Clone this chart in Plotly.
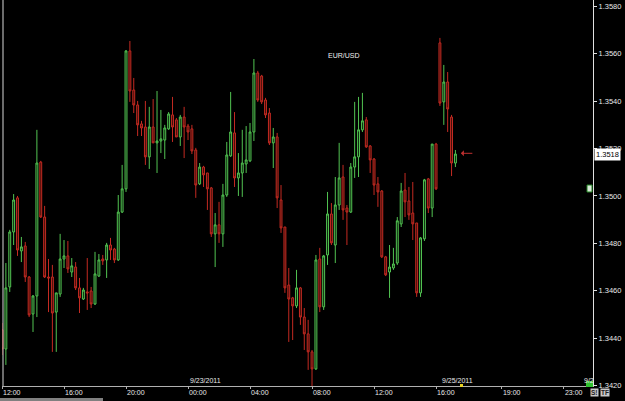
import plotly.graph_objects as go

# 15-minute EUR/USD bars (bar index order)
opens = [1.34435,1.34354,1.34616,1.34848,1.34992,1.34768,1.34789,1.34658,1.34502,1.34578,
         1.35143,1.34911,1.34658,1.34658,1.34510,1.34586,1.34734,1.34747,1.34679,1.34700,
         1.34612,1.34565,1.34595,1.34599,1.34544,1.34662,1.34734,1.34730,1.34793,1.34776,
         1.34730,1.34932,1.35030,1.35612,1.35447,1.35384,1.35304,1.35291,1.35165,1.35291,
         1.35224,1.35232,1.35236,1.35283,1.35342,1.35321,1.35249,1.35333,1.35295,1.35283,
         1.35194,1.35051,1.35122,1.35097,1.35034,1.34840,1.34878,1.34840,1.35004,1.35169,
         1.35266,1.35076,1.35097,1.35135,1.35148,1.35270,1.35519,1.35506,1.35405,1.35350,
         1.35224,1.35249,1.34983,1.34869,1.34624,1.34570,1.34536,1.34612,1.34489,1.34418,
         1.34342,1.34270,1.34734,1.34532,1.34751,1.34924,1.34793,1.34962,1.35080,1.34949,
         1.34932,1.35122,1.35165,1.35279,1.35321,1.35211,1.35156,1.35051,1.35021,1.34743,
         1.34679,1.34696,1.34717,1.34882,1.35025,1.34979,1.34928,1.34886,1.34591,1.34819,
         1.35072,1.34949,1.35219,1.35646,1.35397,1.35481,1.35333,1.35139]
highs = [1.34464,1.34717,1.34857,1.35008,1.35000,1.34827,1.34806,1.34662,1.34582,1.35279,
         1.35148,1.34958,1.34734,1.34709,1.34591,1.34840,1.34814,1.34810,1.34738,1.34721,
         1.34654,1.34612,1.34738,1.34616,1.34764,1.34755,1.34751,1.34802,1.34823,1.34781,
         1.35004,1.35131,1.35616,1.35654,1.35498,1.35401,1.35317,1.35401,1.35376,1.35409,
         1.35443,1.35363,1.35300,1.35354,1.35418,1.35329,1.35342,1.35376,1.35304,1.35300,
         1.35203,1.35139,1.35127,1.35097,1.35038,1.34928,1.34975,1.35051,1.35228,1.35439,
         1.35354,1.35181,1.35279,1.35295,1.35308,1.35578,1.35528,1.35511,1.35414,1.35371,
         1.35287,1.35266,1.35046,1.34869,1.34696,1.34574,1.34688,1.34616,1.34527,1.34477,
         1.34350,1.34751,1.34781,1.34751,1.35017,1.34970,1.35080,1.35224,1.35131,1.34962,
         1.35139,1.35397,1.35418,1.35435,1.35333,1.35215,1.35160,1.35080,1.35025,1.34747,
         1.34793,1.34781,1.34911,1.35055,1.35097,1.35038,1.35059,1.34886,1.34827,1.35072,
         1.35076,1.35219,1.35224,1.35667,1.35553,1.35523,1.35342,1.35194]
lows = [1.34329,1.34287,1.34595,1.34793,1.34747,1.34721,1.34637,1.34489,1.34426,1.34489,
        1.34907,1.34654,1.34510,1.34342,1.34342,1.34574,1.34696,1.34675,1.34658,1.34603,
        1.34506,1.34561,1.34519,1.34527,1.34540,1.34658,1.34709,1.34654,1.34730,1.34717,
        1.34726,1.34928,1.35017,1.35397,1.35350,1.35253,1.35253,1.35131,1.35114,1.35224,
        1.35097,1.35181,1.35156,1.35279,1.35228,1.35249,1.35211,1.35160,1.35236,1.35177,
        1.34992,1.35046,1.35038,1.34941,1.34827,1.34700,1.34802,1.34785,1.34996,1.35165,
        1.35038,1.35000,1.34996,1.35097,1.35143,1.35232,1.35397,1.35388,1.35329,1.35215,
        1.35118,1.34949,1.34844,1.34591,1.34384,1.34392,1.34527,1.34456,1.34350,1.34266,
        1.34198,1.34266,1.34510,1.34519,1.34709,1.34793,1.34717,1.34941,1.34899,1.34793,
        1.34928,1.35076,1.35080,1.35270,1.35203,1.35097,1.35004,1.34954,1.34738,1.34662,
        1.34570,1.34688,1.34709,1.34869,1.34911,1.34899,1.34814,1.34574,1.34574,1.34810,
        1.34928,1.34911,1.35025,1.35380,1.35300,1.35270,1.35084,1.35122]
closes = [1.34354,1.34612,1.34848,1.34983,1.34772,1.34785,1.34658,1.34498,1.34578,1.35139,
          1.34911,1.34658,1.34654,1.34506,1.34591,1.34734,1.34747,1.34692,1.34705,1.34612,
          1.34570,1.34603,1.34591,1.34544,1.34671,1.34730,1.34726,1.34793,1.34772,1.34730,
          1.34932,1.35030,1.35612,1.35443,1.35384,1.35300,1.35287,1.35165,1.35291,1.35224,
          1.35232,1.35241,1.35287,1.35346,1.35291,1.35249,1.35333,1.35291,1.35270,1.35190,
          1.35046,1.35122,1.35089,1.35030,1.34840,1.34878,1.34840,1.35004,1.35173,1.35270,
          1.35076,1.35097,1.35139,1.35152,1.35270,1.35519,1.35405,1.35397,1.35342,1.35224,
          1.35249,1.34992,1.34865,1.34612,1.34565,1.34536,1.34612,1.34489,1.34418,1.34342,
          1.34270,1.34730,1.34532,1.34747,1.34924,1.34802,1.34962,1.35076,1.34941,1.34932,
          1.35122,1.35165,1.35279,1.35317,1.35207,1.35152,1.35046,1.35017,1.34743,1.34667,
          1.34700,1.34713,1.34895,1.35021,1.34975,1.34920,1.34882,1.34591,1.34823,1.35068,
          1.34949,1.35219,1.35030,1.35392,1.35481,1.35367,1.35139,1.35177]
bars = list(range(len(opens)))

tick_bars = [0, 16, 32, 48, 64, 80, 96, 112, 129, 145]
tick_labels = ["12:00", "16:00", "20:00", "00:00", "04:00", "08:00", "12:00", "16:00", "19:00", "23:00"]
date_bars = [48, 113, 149.7]
date_labels = ["9/23/2011", "9/25/2011", "9/2"]
last_price = 1.3518
symbol = "EUR/USD"

FONT = "Liberation Sans, Arial, sans-serif"

fig = go.Figure(go.Candlestick(
    x=bars, open=opens, high=highs, low=lows, close=closes,
    increasing=dict(line=dict(color="#52c452", width=1), fillcolor="#0a1c0a"),
    decreasing=dict(line=dict(color="#c42a22", width=1), fillcolor="#3a0e08"),
    whiskerwidth=0, hoverinfo="skip",
))

W, H = 625, 401
ml, mr, mt, mb = 2, 32, 0, 15
pw, ph = W - ml - mr, H - mt - mb

def px(xp):
    return (xp - ml) / pw

def py(yp):
    return (H - mb - yp) / ph

fig.update_layout(
    width=W, height=H,
    margin=dict(l=ml, r=mr, t=mt, b=mb, pad=0),
    paper_bgcolor="black", plot_bgcolor="black",
    showlegend=False, boxgap=0.3,
    font=dict(family=FONT, color="#e8e8e8", size=7),
    xaxis=dict(
        range=[0, 152.5], rangeslider=dict(visible=False),
        showgrid=False, zeroline=False,
        showline=True, linecolor="#b0b0b0", linewidth=1,
        ticks="outside", ticklen=2, tickcolor="#b0b0b0",
        tickvals=tick_bars, ticktext=tick_labels,
        ticklabelposition="outside right",
        tickfont=dict(size=7, color="#e8e8e8", family=FONT),
    ),
    yaxis=dict(
        range=[1.34198, 1.35827], side="right",
        showgrid=False, zeroline=False,
        showline=True, linecolor="#e0e0e0", linewidth=1,
        ticks="outside", ticklen=3, tickcolor="#e0e0e0",
        dtick=0.002, tick0=1.342, tickformat=".4f",
        tickfont=dict(size=7.5, color="#e8e8e8", family=FONT),
    ),
)

shapes = [
    # left border
    dict(type="line", xref="paper", yref="paper", x0=px(3), x1=px(3), y0=0, y1=1,
         line=dict(color="#d8d8d8", width=1)),
    # yellow marker
    dict(type="rect", xref="paper", yref="paper", x0=px(460), x1=px(463), y0=py(387), y1=py(384),
         fillcolor="#e8d020", line=dict(width=0)),
    # green marker near right end of axis
    dict(type="rect", xref="paper", yref="paper", x0=px(586), x1=px(593), y0=py(387), y1=py(381),
         fillcolor="#30c030", line=dict(width=0)),
    # small icon on the axis
    dict(type="rect", xref="paper", yref="paper", x0=px(587), x1=px(592), y0=py(192), y1=py(185),
         fillcolor="#d8e8d8", line=dict(color="#208020", width=1)),
    # scrollbar strip
    dict(type="rect", xref="paper", yref="paper", x0=px(0), x1=px(103), y0=py(401), y1=py(398),
         fillcolor="#808080", line=dict(width=0)),
]
fig.update_layout(shapes=shapes)

ann = []
for b, lab in zip(date_bars, date_labels):
    ann.append(dict(x=b, y=0, xref="x", yref="paper", text=lab, showarrow=False,
                    xanchor="left", yanchor="bottom", yshift=0,
                    font=dict(size=7, color="#e8e8e8", family=FONT)))
ann.append(dict(x=88.3, y=1.35591, xref="x", yref="y", text=symbol, showarrow=False,
                font=dict(size=7, color="#f0f0f0", family=FONT)))
ann.append(dict(x=1, y=last_price, xref="paper", yref="y", text=f"{last_price:.4f}",
                showarrow=False, xanchor="left", xshift=1, yshift=-1, bgcolor="white",
                font=dict(size=7.5, color="black", family=FONT), borderpad=1))
ann.append(dict(x=118.4, y=last_price, xref="x", yref="y", text="", showarrow=True,
                ax=13, ay=0, arrowhead=1, arrowsize=1, arrowwidth=1, arrowcolor="#c03030",
                standoff=0))
ann.append(dict(x=px(599), y=py(397), xref="paper", yref="paper", text="<b>S!</b>",
                showarrow=False, bgcolor="#c8c8c8", borderpad=0,
                font=dict(size=6.5, color="#202020", family=FONT)))
ann.append(dict(x=px(610), y=py(397), xref="paper", yref="paper", text="<b>TF</b>",
                showarrow=False, bgcolor="#c8c8c8", borderpad=0,
                font=dict(size=6.5, color="#202020", family=FONT)))
fig.update_layout(annotations=ann)

fig.write_html("out.html")
